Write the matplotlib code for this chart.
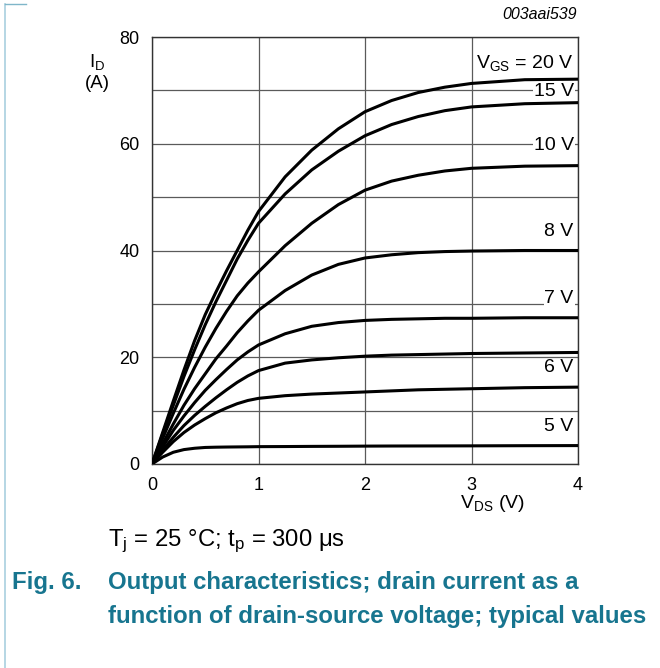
import matplotlib
matplotlib.use("Agg")
import matplotlib.pyplot as plt
from matplotlib.lines import Line2D
import numpy as np

plt.rcParams['font.family'] = ['Liberation Sans', 'DejaVu Sans']
plt.rcParams['mathtext.fontset'] = 'custom'
plt.rcParams['mathtext.rm'] = 'Liberation Sans'

# drain-source voltage (V) where the curves were read
vds = [0, 0.1, 0.2, 0.3, 0.4, 0.5, 0.6, 0.7, 0.8, 0.9, 1.0,
       1.25, 1.5, 1.75, 2.0, 2.25, 2.5, 2.75, 3.0, 3.5, 4.0]

# drain current (A), one list per curve, top to bottom
id_20v = [0, 5.9, 11.8, 17.6, 23.1, 28.0, 32.2, 36.2, 40.0, 43.8, 47.3,
          53.8, 58.8, 62.8, 66.0, 68.1, 69.6, 70.6, 71.3, 72.0, 72.1]
id_15v = [0, 5.6, 11.0, 16.4, 21.4, 26.1, 30.4, 34.4, 38.4, 41.9, 45.1,
          50.6, 55.1, 58.6, 61.5, 63.6, 65.1, 66.2, 66.9, 67.5, 67.7]
id_10v = [0, 4.8, 9.5, 14.0, 18.1, 21.9, 25.4, 28.6, 31.5, 33.9, 36.0,
          40.9, 45.1, 48.6, 51.3, 53.0, 54.1, 54.9, 55.4, 55.8, 55.9]
id_8v = [0, 3.8, 7.5, 11.0, 14.1, 16.9, 19.7, 22.1, 24.6, 26.8, 28.8,
         32.5, 35.4, 37.4, 38.6, 39.2, 39.6, 39.8, 39.9, 40.0, 40.0]
id_7v = [0, 3.2, 6.3, 9.0, 11.5, 13.8, 15.8, 17.7, 19.5, 21.0, 22.3,
         24.4, 25.8, 26.5, 26.9, 27.1, 27.2, 27.3, 27.3, 27.4, 27.4]
id_6v5 = [0, 2.6, 5.0, 7.2, 9.1, 10.8, 12.4, 13.9, 15.3, 16.5, 17.5,
          18.9, 19.5, 19.9, 20.2, 20.4, 20.5, 20.6, 20.7, 20.8, 20.9]
id_6v = [0, 2.2, 4.2, 5.9, 7.3, 8.5, 9.6, 10.5, 11.3, 11.9, 12.3,
         12.8, 13.1, 13.3, 13.5, 13.7, 13.9, 14.0, 14.1, 14.3, 14.4]
id_5v = [0, 1.3, 2.2, 2.7, 2.95, 3.1, 3.15, 3.18, 3.2, 3.22, 3.25,
         3.27, 3.3, 3.32, 3.35, 3.37, 3.38, 3.39, 3.4, 3.43, 3.45]
curves = [id_20v, id_15v, id_10v, id_8v, id_7v, id_6v5, id_6v, id_5v]

# curve labels and where they sit (A)
labels = ['$\\mathregular{V_{GS}}$ = 20 V', '15 V', '10 V', '8 V', '7 V', '6 V', '5 V']
label_y = [75.1, 69.7, 59.6, 43.5, 31.1, 18.0, 7.1]
label_bg = [False, True, True, False, True, False, False]

fig = plt.figure(figsize=(6.6, 6.68), dpi=100)
ax = fig.add_axes([152/660, 204/668, 426/660, 427/668])

for c in curves:
    ax.plot(vds, c, color='black', lw=2.2, solid_joinstyle='round',
            solid_capstyle='round', zorder=3)

ax.set_xlim(0, 4)
ax.set_ylim(0, 80)
ax.set_xticks([0, 1, 2, 3, 4])
ax.set_yticks([0, 20, 40, 60, 80])
ax.set_yticks(np.arange(0, 81, 10), minor=True)
ax.grid(True, which='both', color='#5a5a5a', lw=0.9, zorder=1)
ax.tick_params(which='both', length=0, labelsize=13, colors='black')
ax.tick_params(axis='x', pad=9)
ax.tick_params(axis='y', pad=9)
for s in ax.spines.values():
    s.set_color('#333333')
    s.set_linewidth(1.0)

for lab, y, bg in zip(labels, label_y, label_bg):
    box = dict(facecolor='white', edgecolor='none', pad=0.5) if bg else None
    ax.text(3.96, y, lab, ha='right', va='center', fontsize=14,
            bbox=box, zorder=4)

ax.text(3.99, 84.3, '003aai539', ha='right', va='center', fontsize=11.5,
        style='italic')
fig.text(97/660, 1 - 62/668, '$\\mathregular{I_D}$', ha='center',
         va='center', fontsize=13.5)
fig.text(97/660, 1 - 83/668, '(A)', ha='center', va='center', fontsize=13.5)
fig.text(525/660, 1 - 503/668, '$\\mathregular{V_{DS}}$ (V)', ha='right',
         va='center', fontsize=14)

fig.text(108/660, 1 - 541/668, '$\\mathregular{T_j}$ = 25 °C; $\\mathregular{t_p}$ = 300 μs',
         ha='left', va='center', fontsize=17.2)
teal = '#17758f'
fig.text(12/660, 1 - 583/668, 'Fig. 6.', ha='left', va='center',
         fontsize=17.3, weight='bold', color=teal)
fig.text(108/660, 1 - 583/668, 'Output characteristics; drain current as a',
         ha='left', va='center', fontsize=17.3, weight='bold', color=teal)
fig.text(108/660, 1 - 617/668, 'function of drain-source voltage; typical values',
         ha='left', va='center', fontsize=17.3, weight='bold', color=teal)

# light page border on the left
fig.add_artist(Line2D([4.5/660, 4.5/660], [0, 1 - 4/668], color='#a9cfdf', lw=1.2))
fig.add_artist(Line2D([4.5/660, 26/660], [1 - 4/668, 1 - 4/668], color='#7fb6c9', lw=1.0))

fig.savefig('out.png', dpi=100)
